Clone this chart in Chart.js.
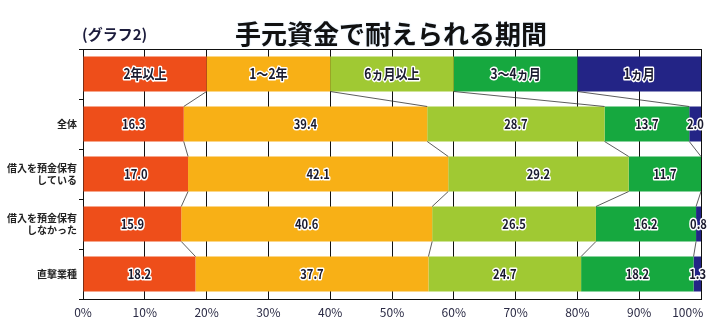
<!DOCTYPE html>
<html lang="ja">
<head>
<meta charset="utf-8">
<title>手元資金で耐えられる期間</title>
<script src="https://cdn.jsdelivr.net/npm/chart.js@4.4.1/dist/chart.umd.min.js"></script>
<style>
  body { margin: 0; background: #fff; }
  .wrap { position: relative; width: 710px; height: 333px; }
  .sub {
    position: absolute; left: 82px; top: 23px;
    font: bold 15px "Noto Sans CJK JP", sans-serif; color: #1c1c3c;
  }
  .title {
    position: absolute; left: 0; width: 782px; top: 14px; text-align: center;
    font: bold 26px "Noto Sans CJK JP", sans-serif; color: #111;
    text-shadow: 0 0 2px #cfe6ff;
  }
</style>
</head>
<body>
<div class="wrap">
  <canvas id="chart" width="710" height="333"></canvas>
  <div class="sub">(グラフ2)</div>
  <div class="title">手元資金で耐えられる期間</div>
</div>
<script>
// Rows (the first row is the colour key band)
const rowLabels = ['', '全体', ['借入を預金保有', 'している'], ['借入を預金保有', 'しなかった'], '直撃業種'];
const seriesNames = ['2年以上', '1〜2年', '6ヵ月以上', '3〜4ヵ月', '1ヵ月'];
const keyBand = [20, 20, 20, 20, 20];

// Series values (%), one entry per data row
const over2y = [16.3, 17.0, 15.9, 18.2];
const y1to2 = [39.4, 42.1, 40.6, 37.7];
const m6plus = [28.7, 29.2, 26.5, 24.7];
const m3to4 = [13.7, 11.7, 16.2, 18.2];
const m1 = [2.0, 0, 0.8, 1.3];

const xTicks = [0, 10, 20, 30, 40, 50, 60, 70, 80, 90, 100];

const colors = ['#ee4e1a', '#f8b016', '#a0c933', '#16a83f', '#232486'];
const series = [over2y, y1to2, m6plus, m3to4, m1];
const FONT = '"Noto Sans CJK JP", sans-serif';

// dark text with a white halo, squeezed a little to look condensed
function haloText(ctx, text, x, y, font) {
  ctx.save();
  ctx.translate(x, y);
  ctx.scale(0.86, 1);
  ctx.font = font;
  ctx.textAlign = 'center';
  ctx.textBaseline = 'middle';
  ctx.lineJoin = 'round';
  ctx.lineWidth = 3;
  ctx.strokeStyle = '#ffffff';
  ctx.strokeText(text, 0, 0);
  ctx.fillStyle = '#1a1a2e';
  ctx.fillText(text, 0, 0);
  ctx.restore();
}

// Connector lines, key labels, value labels and the top frame line
const decorPlugin = {
  id: 'decor',
  afterDatasetsDraw(chart) {
    const ctx = chart.ctx;
    const area = chart.chartArea;
    const metas = series.map((_, k) => chart.getDatasetMeta(k));
    const bar = (k, i) => metas[k].data[i].getProps(['x', 'base', 'y', 'height'], true);
    ctx.save();

    // top border
    ctx.strokeStyle = '#111';
    ctx.lineWidth = 1;
    ctx.beginPath();
    ctx.moveTo(area.left, area.top + 0.5);
    ctx.lineTo(area.right, area.top + 0.5);
    ctx.stroke();

    // series lines between rows
    ctx.strokeStyle = '#333';
    ctx.lineWidth = 0.8;
    for (let i = 0; i < rowLabels.length - 1; i++) {
      for (let k = 0; k < series.length - 1; k++) {
        const a = bar(k, i);
        const b = bar(k, i + 1);
        ctx.beginPath();
        ctx.moveTo(a.x, a.y + a.height / 2);
        ctx.lineTo(b.x, b.y - b.height / 2);
        ctx.stroke();
      }
    }

    // labels
    for (let k = 0; k < series.length; k++) {
      const key = bar(k, 0);
      haloText(ctx, seriesNames[k], (key.x + key.base) / 2, key.y, 'bold 14px ' + FONT);
      series[k].forEach((v, i) => {
        if (!v) return;
        const p = bar(k, i + 1);
        haloText(ctx, v.toFixed(1), (p.x + p.base) / 2, p.y, 'bold 13px ' + FONT);
      });
    }
    ctx.restore();
  }
};

new Chart(document.getElementById('chart'), {
  type: 'bar',
  data: {
    labels: rowLabels,
    datasets: seriesNames.map((name, k) => ({
      label: name,
      data: [keyBand[k], ...series[k]],
      backgroundColor: colors[k],
      borderWidth: 0,
      barPercentage: 0.7,
      categoryPercentage: 1
    }))
  },
  options: {
    indexAxis: 'y',
    responsive: false,
    animation: false,
    layout: { padding: { top: 49, right: 9, left: 0, bottom: 0 } },
    plugins: {
      legend: { display: false },
      tooltip: { enabled: false }
    },
    scales: {
      x: {
        stacked: true,
        min: 0,
        max: 100,
        afterFit: s => { s.height = 34; s.paddingLeft = 0; s.paddingRight = 0; },
        afterBuildTicks: s => { s.ticks = xTicks.map(v => ({ value: v })); },
        grid: { color: '#111', lineWidth: 1, drawTicks: false },
        border: { color: '#111', width: 1 },
        ticks: {
          padding: 6,
          autoSkip: false,
          maxRotation: 0,
          minRotation: 0,
          color: '#2b2b45',
          font: { family: FONT, size: 12 },
          // last label sits left of the 100% line, so pad it on the right
          callback: v => v === 100 ? '100%\u2007\u2007\u2007\u2007' : v + '%'
        }
      },
      y: {
        stacked: true,
        afterFit: s => { s.width = 83; },
        grid: { drawOnChartArea: false, color: '#111', tickLength: 4, offset: true },
        border: { color: '#111', width: 1 },
        ticks: {
          padding: 2,
          color: '#222',
          font: { family: FONT, size: 10, weight: 'bold', lineHeight: 1.25 }
        }
      }
    }
  },
  plugins: [decorPlugin]
});
</script>
</body>
</html>
